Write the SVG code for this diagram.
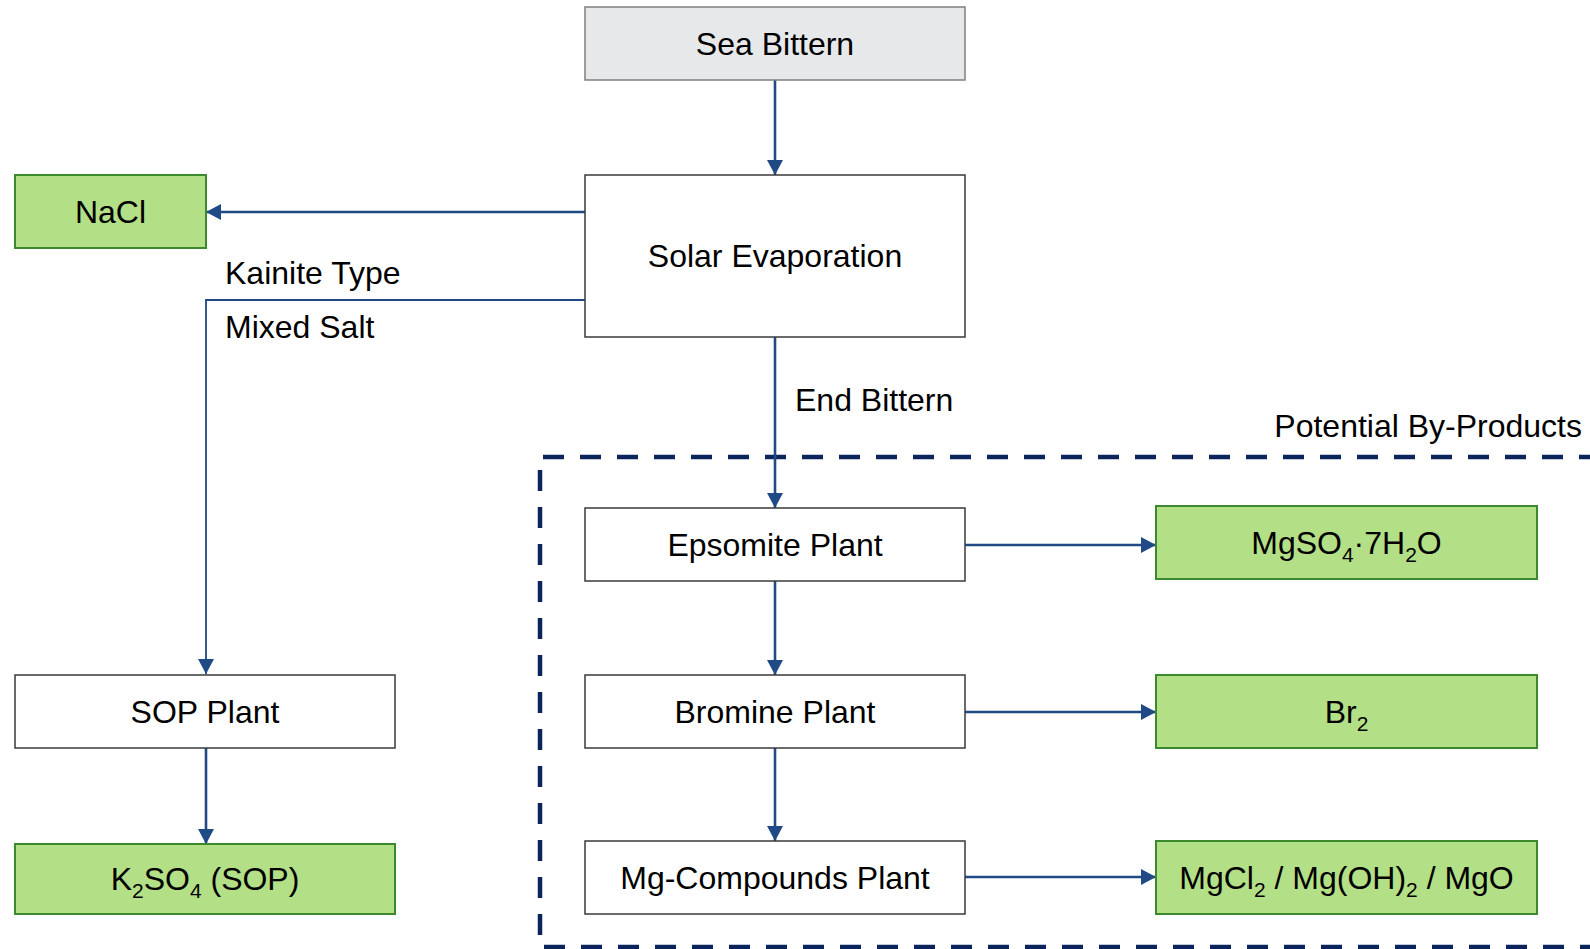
<svg xmlns="http://www.w3.org/2000/svg" width="1590" height="949" viewBox="0 0 1590 949">
<style>
text{font-family:"Liberation Sans",Arial,sans-serif;font-size:32px;fill:#000}
.c{text-anchor:middle}
.gray{fill:#e7e8ea;stroke:#7f7f7f;stroke-width:1.5}
.white{fill:#fff;stroke:#3a3a3a;stroke-width:1.5}
.green{fill:#b3df86;stroke:#3b8a2e;stroke-width:2}
.arr{fill:none;stroke:#1f4a85;stroke-width:2.6}
.thin{fill:none;stroke:#1f4a85;stroke-width:1.8}
.dash{fill:none;stroke:#0b245c;stroke-width:4.5;stroke-dasharray:21 16;stroke-linejoin:round}
.sub{font-size:21px}
</style>
<defs>
<marker id="ah" markerUnits="userSpaceOnUse" markerWidth="16" markerHeight="16" refX="15" refY="8" orient="auto">
<path d="M0,0 L15,8 L0,16 z" fill="#1f4a85"/>
</marker>
</defs>
<rect x="0" y="0" width="1590" height="949" fill="#fff"/>
<g id="bybox">
<path class="dash" d="M1600,457 L540,457 L540,947 L1600,947"/>
<text x="1582" y="437" text-anchor="end">Potential By-Products</text>
</g>
<g id="connectors">
<line class="arr" x1="775" y1="80" x2="775" y2="175" marker-end="url(#ah)"/>
<line class="arr" x1="585" y1="212" x2="206" y2="212" marker-end="url(#ah)"/>
<polyline class="thin" points="585,300 206,300 206,674" marker-end="url(#ah)"/>
<line class="arr" x1="775" y1="337" x2="775" y2="508" marker-end="url(#ah)"/>
<line class="arr" x1="775" y1="581" x2="775" y2="675" marker-end="url(#ah)"/>
<line class="arr" x1="775" y1="748" x2="775" y2="841" marker-end="url(#ah)"/>
<line class="arr" x1="206" y1="748" x2="206" y2="844" marker-end="url(#ah)"/>
<line class="arr" x1="965" y1="545" x2="1156" y2="545" marker-end="url(#ah)"/>
<line class="arr" x1="965" y1="712" x2="1156" y2="712" marker-end="url(#ah)"/>
<line class="arr" x1="965" y1="877" x2="1156" y2="877" marker-end="url(#ah)"/>
<text x="225" y="284">Kainite Type</text>
<text x="225" y="338">Mixed Salt</text>
<text x="795" y="411">End Bittern</text>
</g>
<g id="sea-bittern">
<rect class="gray" x="585" y="7" width="380" height="73"/>
<text class="c" x="775" y="55">Sea Bittern</text>
</g>
<g id="solar-evaporation">
<rect class="white" x="585" y="175" width="380" height="162"/>
<text class="c" x="775" y="267">Solar Evaporation</text>
</g>
<g id="nacl">
<rect class="green" x="15" y="175" width="191" height="73"/>
<text class="c" x="110.5" y="223">NaCl</text>
</g>
<g id="sop-plant">
<rect class="white" x="15" y="675" width="380" height="73"/>
<text class="c" x="205" y="723">SOP Plant</text>
</g>
<g id="k2so4">
<rect class="green" x="15" y="844" width="380" height="70"/>
<text class="c" x="205" y="890">K<tspan class="sub" dy="8">2</tspan><tspan dy="-8">SO</tspan><tspan class="sub" dy="8">4</tspan><tspan dy="-8"> (SOP)</tspan></text>
</g>
<g id="epsomite-plant">
<rect class="white" x="585" y="508" width="380" height="73"/>
<text class="c" x="775" y="556">Epsomite Plant</text>
</g>
<g id="bromine-plant">
<rect class="white" x="585" y="675" width="380" height="73"/>
<text class="c" x="775" y="723">Bromine Plant</text>
</g>
<g id="mg-compounds-plant">
<rect class="white" x="585" y="841" width="380" height="73"/>
<text class="c" x="775" y="889">Mg-Compounds Plant</text>
</g>
<g id="mgso4">
<rect class="green" x="1156" y="506" width="381" height="73"/>
<text class="c" x="1346.5" y="554">MgSO<tspan class="sub" dy="8">4</tspan><tspan dy="-8">·7H</tspan><tspan class="sub" dy="8">2</tspan><tspan dy="-8">O</tspan></text>
</g>
<g id="br2">
<rect class="green" x="1156" y="675" width="381" height="73"/>
<text class="c" x="1346.5" y="723">Br<tspan class="sub" dy="8">2</tspan></text>
</g>
<g id="mg-products">
<rect class="green" x="1156" y="841" width="381" height="73"/>
<text class="c" x="1346.5" y="889">MgCl<tspan class="sub" dy="8">2</tspan><tspan dy="-8"> / Mg(OH)</tspan><tspan class="sub" dy="8">2</tspan><tspan dy="-8"> / MgO</tspan></text>
</g>
</svg>
